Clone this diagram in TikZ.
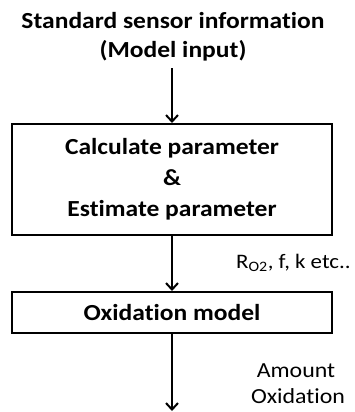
\documentclass[tikz,border=0pt]{standalone}
\usepackage{fontspec}
\setmainfont{Carlito}[FakeStretch=1.11, Ligatures=NoCommon]
\usetikzlibrary{arrows.meta}
\tikzset{
  boxnode/.style={draw, line width=2pt, minimum width=320pt, inner sep=0pt, align=center,
    font=\fontsize{23}{31}\selectfont\bfseries},
  titlenode/.style={anchor=base, inner sep=0pt, font=\fontsize{23}{29}\selectfont\bfseries},
  lbl/.style={anchor=base, inner sep=0pt, font=\fontsize{21.5}{26}\selectfont},
  flow/.style={line width=2pt, -{Straight Barb[length=6.5pt,width=12pt,line width=2pt]}}
}
\begin{document}
\begin{tikzpicture}[x=1pt,y=-1pt]
\useasboundingbox (0,0) rectangle (354,412);
\node[titlenode] (title1) at (173,28.3) {Standard sensor information};
\node[titlenode] (title2) at (173,57.3) {(Model input)};
\coordinate (a0) at (172,68);
\node[boxnode, minimum height=111pt] (calc) at (172,179.5) {Calculate parameter\\\&\\Estimate parameter};
\node[boxnode, minimum height=41pt] (oxm) at (172,312.5) {Oxidation model};
\coordinate (a3) at (172,411);
\node[lbl, anchor=base west, font=\fontsize{20.6}{26}\selectfont] (par) at (236,268) {R\textsubscript{O2}, f, k etc..};
\node[lbl] (amt1) at (296,377) {Amount};
\node[lbl] (amt2) at (298,403) {Oxidation};
\draw[flow] (a0) -- (calc.north);
\draw[flow] (calc.south) -- (oxm.north);
\draw[flow] (oxm.south) -- (a3);
\end{tikzpicture}
\end{document}
